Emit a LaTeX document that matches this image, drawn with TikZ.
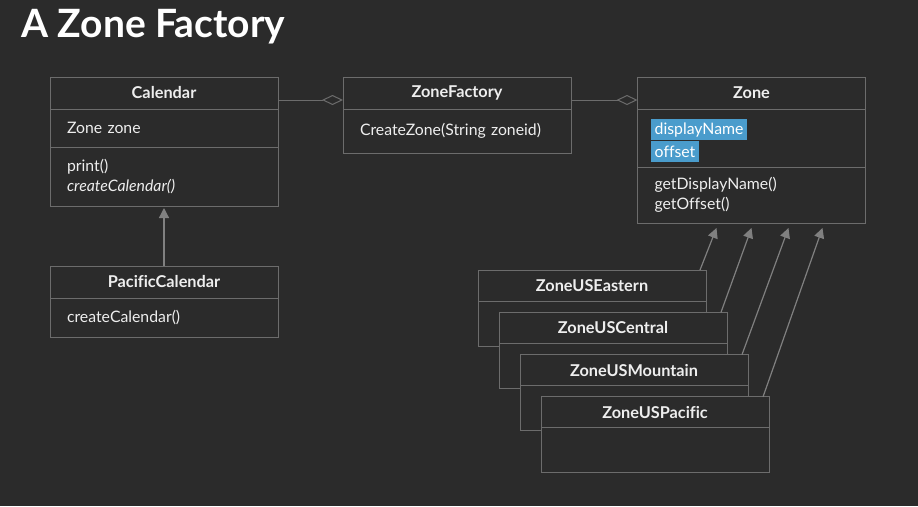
\documentclass[tikz,border=0pt]{standalone}
\usepackage{fontspec}
\setmainfont{Lato}[Ligatures={NoCommon}]
\usetikzlibrary{positioning, arrows.meta, calc}
\definecolor{slidebg}{RGB}{43,43,43}
\definecolor{umlline}{RGB}{108,108,108}
\definecolor{umlarrow}{RGB}{128,128,128}
\definecolor{umltext}{RGB}{238,238,238}
\definecolor{hlblue}{RGB}{74,156,204}

\begin{document}
\begin{tikzpicture}[x=1pt,y=-1pt,
        head/.style={draw=umlline,line width=0.9pt,fill=slidebg,
                     minimum width=228pt,minimum height=32pt,
                     inner sep=0pt,outer sep=0pt,text=umltext,
                     font=\fontsize{16.3}{18}\selectfont\bfseries},
        sect/.style={draw=umlline,line width=0.9pt,fill=slidebg,
                     text width=194pt,inner xsep=17pt,inner ysep=0pt,
                     outer sep=0pt,align=left,text=umltext,
                     font=\fontsize{15.8}{20.5}\selectfont},
        hl/.style={fill=hlblue,text=white,inner xsep=4pt,inner ysep=0pt,
                   minimum height=21pt,anchor=north west,
                   font=\fontsize{15.8}{18}\selectfont},
        aggr/.style={-{Diamond[open,length=21pt,width=10pt]},
                     draw=umlline,line width=1pt},
        inherit/.style={-{Triangle[length=10pt,width=10pt]},
                        draw=umlarrow,line width=1.2pt}]
    \fill[slidebg] (0,0) rectangle (918,506);
    \useasboundingbox (0,0) rectangle (918,506);

    \node[anchor=base west,inner sep=0pt,text=white,
          font=\fontsize{39}{42}\selectfont\bfseries] (title) at (21,37)
        {A Zone Factory};

    % Calendar
    \node[head] (calH) at (164,93) {Calendar};
    \node[sect,minimum height=38pt,below=0pt of calH] (calA) {Zone zone};
    \node[sect,minimum height=59pt,below=0pt of calA] (calM)
        {print()\\\textit{createCalendar()}};

    % ZoneFactory
    \node[head] (facH) at (457,93) {ZoneFactory};
    \node[sect,minimum height=44pt,below=0pt of facH] (facA)
        {CreateZone(String zoneid)};

    % Zone
    \node[head] (zoneH) at (751.5,93) {Zone};
    \node[sect,minimum height=58pt,below=0pt of zoneH] (zoneA) {};
    \node[hl] (dispName) at ($(zoneA.north west)+(13,10)$) {displayName};
    \node[hl] (offset) at ($(zoneA.north west)+(13,32)$) {offset};
    \node[sect,minimum height=56pt,below=0pt of zoneA] (zoneM)
        {getDisplayName()\\getOffset()};

    % PacificCalendar
    \node[head] (pacH) at (164,282) {PacificCalendar};
    \node[sect,minimum height=39pt,below=0pt of pacH] (pacM)
        {createCalendar()};

    % zone subclasses
    \foreach \n/\lbl [count=\i from 0] in {zE/ZoneUSEastern,zC/ZoneUSCentral,
            zM/ZoneUSMountain,zP/ZoneUSPacific} {
        \node[head,minimum height=31pt] (\n H) at (592+21*\i,285.5+42.3*\i) {\lbl};
        \node[sect,minimum height=45pt,below=0pt of \n H] (\n B) {};
    }

    \draw[aggr] ([yshift=-7pt]calH.east) -- ([yshift=-7pt]facH.west);
    \draw[aggr] ([yshift=-7pt]facH.east) -- ([yshift=-7pt]zoneH.west);
    \draw[inherit] (pacH.north) -- ([yshift=-2pt]calM.south);
    \foreach \n/\dx [count=\i] in {zE/79,zC/114,zM/151,zP/185} {
        \coordinate (tip\i) at ($(zoneM.south west)+(\dx,5)$);
        \draw[inherit] ([xshift=-6pt]\n H.north east) -- (tip\i);
    }
\end{tikzpicture}
\end{document}
